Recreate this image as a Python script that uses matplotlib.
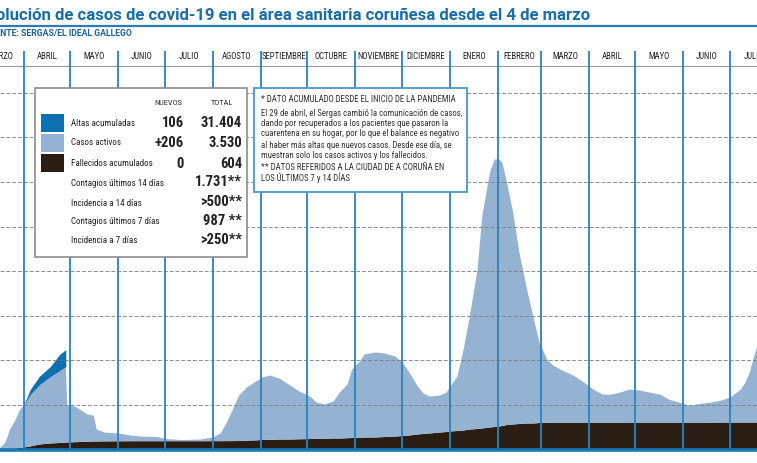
# Evolucion de casos de covid-19 en el area sanitaria corunesa (recreacion)

import numpy as np
import matplotlib.pyplot as plt
from matplotlib.patches import Rectangle
from matplotlib.lines import Line2D

# ---------------------------------------------------------------------------
# datos (dias contados desde el 4 de marzo de 2020)
dias = [0, 7, 13, 16, 19, 22, 25, 28, 32, 38,
        45, 51, 55, 56, 61, 64, 69, 73, 75, 80,
        89, 97, 103, 114, 120, 129, 135, 142, 150, 155,
        159, 163, 167, 172, 174, 178, 182, 187, 193, 200,
        206, 213, 217, 222, 228, 232, 237, 240, 245, 248,
        255, 261, 268, 273, 277, 282, 286, 290, 297, 301,
        303, 308, 312, 316, 321, 324, 329, 332, 335, 337,
        340, 344, 348, 353, 357, 361, 366, 370, 376, 383,
        389, 396, 402, 407, 413, 419, 426, 432, 439, 445,
        452, 458, 465, 471, 478, 484, 491, 494, 497, 499,
        501, 504]

activos = [2, 15, 45, 150, 437, 606, 818, 964, 1166, 1345,
           1502, 1625, 1704, 829, 800, 729, 610, 583, 269, 199,
           175, 128, 105, 94, 49, 27, 30, 38, 82, 172,
           417, 709, 1021, 1195, 1235, 1320, 1401, 1442, 1368, 1211,
           1071, 953, 814, 767, 829, 1031, 1204, 1536, 1711, 1861,
           1906, 1872, 1794, 1625, 1412, 1099, 908, 829, 830, 886,
           986, 1222, 1816, 2534, 3576, 4753, 5717, 5998, 5986, 5908,
           5437, 4753, 3845, 3004, 2399, 1805, 1419, 1278, 1166, 1054,
           920, 740, 628, 628, 673, 740, 718, 673, 628, 511,
           444, 377, 421, 444, 489, 556, 735, 892, 1139, 1408,
           1632, 1950]

fallecidos = [0, 0, 0, 7, 11, 22, 34, 45, 67, 112,
              135, 146, 157, 157, 164, 168, 175, 179, 179, 182,
              184, 186, 186, 186, 186, 186, 186, 186, 187, 187,
              188, 188, 190, 195, 200, 205, 213, 217, 224, 224,
              229, 235, 240, 242, 247, 247, 253, 258, 262, 269,
              269, 280, 291, 303, 314, 336, 348, 359, 381, 392,
              404, 415, 426, 448, 460, 471, 493, 504, 516, 527,
              549, 561, 572, 583, 583, 594, 599, 601, 602, 602,
              602, 602, 602, 602, 602, 603, 603, 603, 603, 603,
              603, 603, 603, 603, 604, 604, 604, 604, 604, 604,
              604, 604]

# altas acumuladas (solo hasta el 29 de abril)
altas_dias = [28, 32, 38, 45, 51, 55]
altas = [0, 112, 187, 224, 359, 381]

meses = ["MARZO", "ABRIL", "MAYO", "JUNIO", "JULIO", "AGOSTO", "SEPTIEMBRE",
         "OCTUBRE", "NOVIEMBRE", "DICIEMBRE", "ENERO", "FEBRERO", "MARZO",
         "ABRIL", "MAYO", "JUNIO", "JULIO"]

leyenda = ["Altas acumuladas", "Casos activos", "Fallecidos acumulados"]
nuevos = ["106", "+206", "0"]
totales = ["31.404", "3.530", "604"]
extra_labels = ["Contagios últimos 14 días", "Incidencia a 14 días",
                "Contagios últimos 7 días", "Incidencia a 7 días"]
extra_values = ["1.731**", ">500**", "987 **", ">250**"]

nota = ["* DATO ACUMULADO DESDE EL INICIO DE LA PANDEMIA",
        "El 29 de abril, el Sergas cambió la comunicación de casos,",
        "dando por recuperados a los pacientes que pasaron la",
        "cuarentena en su hogar, por lo que el balance es negativo",
        "al haber más altas que nuevos casos. Desde ese día, se",
        "muestran solo los casos activos y los fallecidos.",
        "** DATOS REFERIDOS A LA CIUDAD DE A CORUÑA EN",
        "LOS ÚLTIMOS 7 y 14 DÍAS"]

# colores
C_ALTAS = "#0f70b0"
C_ACTIVOS = "#94b3d3"
C_FALLECIDOS = "#2a1d14"
C_LINEAS = "#2a82bf"
C_TITULO = "#1a6da8"

NARROW = ["Liberation Sans Narrow", "Roboto Condensed", "Liberation Sans"]
plt.rcParams["font.family"] = NARROW

# ---------------------------------------------------------------------------
W, H = 757, 463
Y0 = 449.5          # baseline (px)
TOP = 47            # top of plot area (px)
PX = 44.6 / 1000    # px per case


def fx(x):
    return x / W


def fy(y):
    return 1 - y / H


def ypx(p):
    return (Y0 - p) / PX


fig = plt.figure(figsize=(W / 100, H / 100), dpi=100)
fig.patch.set_facecolor("white")

ax = fig.add_axes([0, (H - Y0) / H, 1, (Y0 - TOP) / H])
ax.set_xlim(12.5, 501.5)
ax.set_ylim(0, (Y0 - TOP) / PX)
ax.axis("off")

dias = np.array(dias)
activos = np.array(activos)
fallecidos = np.array(fallecidos)
total = fallecidos + activos

ax.fill_between(dias, 0, fallecidos, color=C_FALLECIDOS, lw=0, zorder=2)
ax.fill_between(dias, fallecidos, total, color=C_ACTIVOS, lw=0, zorder=2)
base = np.array([total[list(dias).index(d)] for d in altas_dias])
ax.fill_between(altas_dias, base, base + np.array(altas), color=C_ALTAS,
                lw=0, zorder=2)

# lineas de referencia
for k in range(1, 9):
    ax.axhline(k * 1000, color="#7a7a7a", lw=0.7, ls=(0, (4, 2)),
               alpha=0.85, zorder=3)

# meses
start = np.datetime64("2020-03-04")
bounds = (np.arange("2020-03", "2021-09", dtype="datetime64[M]")
          .astype("datetime64[D]") - start).astype(int)
ax.vlines(bounds[1:-1], 0, ypx(51), color=C_LINEAS, lw=1.3, zorder=4)
ax.axhline(ypx(66), color="#9a9a9a", lw=0.8, zorder=3)
for i, name in enumerate(meses):
    mid = (bounds[i] + bounds[i + 1]) / 2
    ax.text(mid, ypx(56), name, ha="center", va="center", fontsize=6.3,
            color="#222222", zorder=5)
ax.axhline(0, color="#1b76b6", lw=2.6, clip_on=False, zorder=5)

# titulo
fig.text(fx(590), fy(16), "Evolución de casos de covid-19 en el área sanitaria "
         "coruñesa desde el 4 de marzo", ha="right", va="center",
         fontsize=12.1, fontweight="bold", color=C_TITULO, family="Roboto")
fig.add_artist(Line2D([0, 1], [fy(25.5), fy(25.5)], color="#2c7bb6", lw=1.6))
fig.text(fx(132), fy(33), "FUENTE: SERGAS/EL IDEAL GALLEGO", ha="right",
         va="center", fontsize=6.3, fontweight="bold", color="#1f6596",
         family="Roboto")

# caja de leyenda
fig.add_artist(Rectangle((fx(35), fy(257)), (247 - 35) / W, (257 - 88) / H,
                         transform=fig.transFigure, facecolor="white",
                         edgecolor="#8c8c8c", lw=1.2, zorder=6))
fig.text(fx(168), fy(103), "NUEVOS", ha="center", va="center", fontsize=6,
         color="#333333", zorder=7)
fig.text(fx(222), fy(103), "TOTAL", ha="center", va="center", fontsize=6,
         color="#333333", zorder=7)
sw_colors = [C_ALTAS, C_ACTIVOS, C_FALLECIDOS]
sw_top = [114, 134, 154]
rows = [123, 143, 164]
for i in range(3):
    fig.add_artist(Rectangle((fx(41), fy(sw_top[i] + 17.5)), 23 / W, 17.5 / H,
                             transform=fig.transFigure, facecolor=sw_colors[i],
                             edgecolor="none", zorder=7))
    fig.text(fx(71), fy(rows[i]), leyenda[i], ha="left", va="center",
             fontsize=6.5, color="#222222", zorder=7)
    fig.text(fx(184), fy(rows[i]), nuevos[i], ha="right", va="center",
             fontsize=10.5, fontweight="bold", color="#222222", zorder=7)
    fig.text(fx(242), fy(rows[i]), totales[i], ha="right", va="center",
             fontsize=10.5, fontweight="bold", color="#222222", zorder=7)
extra_rows = [183, 203, 222, 241]
for lab, val, yy in zip(extra_labels, extra_values, extra_rows):
    fig.text(fx(71), fy(yy), lab, ha="left", va="center", fontsize=6.5,
             color="#222222", zorder=7)
    fig.text(fx(242), fy(yy - 1), val, ha="right", va="center",
             fontsize=10.5, fontweight="bold", color="#222222", zorder=7)

# caja de nota
fig.add_artist(Rectangle((fx(254), fy(192)), (467 - 254) / W, (192 - 88) / H,
                         transform=fig.transFigure, facecolor="white",
                         edgecolor="#4d95cc", lw=1.3, zorder=6))
nota_y = [100, 113, 123.5, 134, 145, 155.5, 167.5, 178]
for line, yy in zip(nota, nota_y):
    fig.text(fx(261), fy(yy), line, ha="left", va="center", fontsize=6.3,
             color="#333333", zorder=7)

plt.savefig("out.png", dpi=100, facecolor="white")
